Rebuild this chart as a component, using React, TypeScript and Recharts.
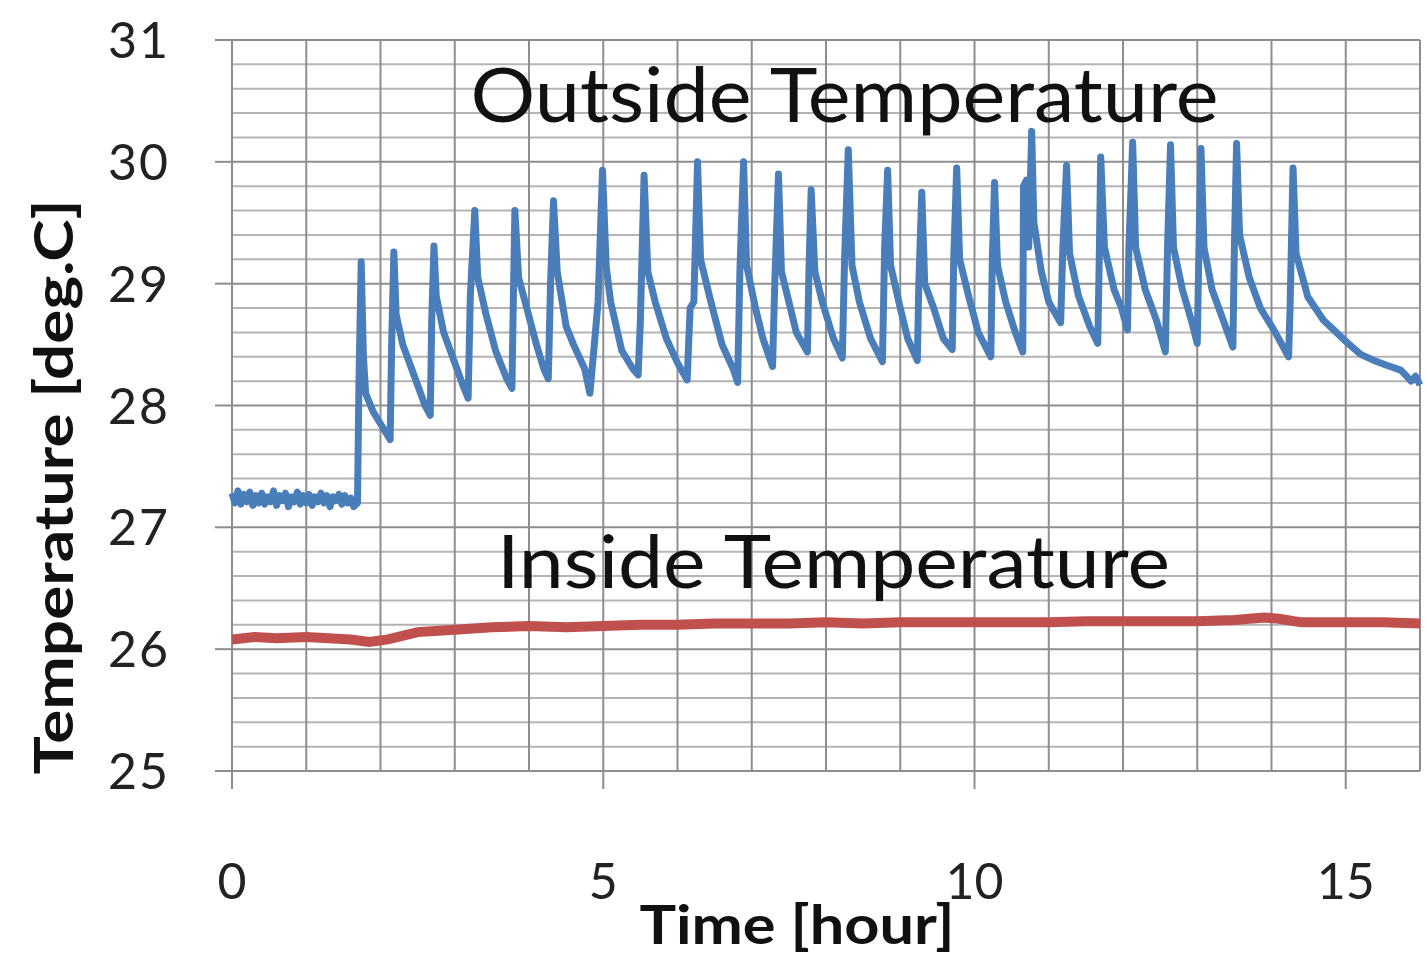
import {
  LineChart,
  Line,
  XAxis,
  YAxis,
  CartesianGrid,
  ReferenceDot,
} from "recharts";

// time [hour], temperature [deg.C]
const outsidePoints: [number, number][] = [
  [0, 27.28], [0.04, 27.2], [0.08, 27.3], [0.12, 27.19], [0.16, 27.27], [0.2, 27.21],
  [0.24, 27.29], [0.28, 27.18], [0.32, 27.26], [0.36, 27.2], [0.4, 27.28], [0.44, 27.19],
  [0.48, 27.25], [0.52, 27.21], [0.56, 27.3], [0.6, 27.18], [0.64, 27.26], [0.68, 27.22],
  [0.72, 27.28], [0.76, 27.17], [0.8, 27.25], [0.84, 27.21], [0.88, 27.29], [0.92, 27.19],
  [0.96, 27.26], [1.0, 27.2], [1.04, 27.27], [1.08, 27.18], [1.12, 27.25], [1.16, 27.21],
  [1.2, 27.28], [1.24, 27.2], [1.28, 27.26], [1.32, 27.17], [1.36, 27.25], [1.4, 27.22],
  [1.44, 27.27], [1.48, 27.19], [1.52, 27.26], [1.56, 27.2], [1.6, 27.24], [1.64, 27.17],
  [1.69, 27.2],
  [1.71, 28.2], [1.74, 29.18], [1.77, 28.4], [1.8, 28.1], [1.9, 27.95], [2.0, 27.85], [2.1, 27.75], [2.13, 27.72],
  [2.15, 28.5], [2.18, 29.26], [2.21, 28.75], [2.3, 28.5], [2.45, 28.25], [2.6, 28.0], [2.67, 27.92],
  [2.69, 28.7], [2.72, 29.31], [2.75, 28.9], [2.85, 28.6], [3.0, 28.35], [3.12, 28.15], [3.18, 28.06],
  [3.21, 28.9], [3.27, 29.6], [3.31, 29.05], [3.42, 28.75], [3.55, 28.45], [3.7, 28.22], [3.77, 28.14],
  [3.79, 28.9], [3.81, 29.6], [3.86, 29.05], [3.97, 28.8], [4.1, 28.5], [4.2, 28.3], [4.26, 28.22],
  [4.29, 29.0], [4.33, 29.68], [4.38, 29.1], [4.5, 28.65], [4.6, 28.5], [4.75, 28.3], [4.82, 28.1],
  [4.88, 28.5], [4.93, 28.85], [4.99, 29.93], [5.04, 29.14], [5.1, 28.85], [5.25, 28.45], [5.4, 28.3], [5.47, 28.25],
  [5.5, 28.7], [5.55, 29.89], [5.6, 29.1], [5.7, 28.85], [5.85, 28.55], [6.0, 28.35], [6.13, 28.21],
  [6.17, 28.8], [6.22, 28.85], [6.27, 30.0], [6.31, 29.2], [6.45, 28.85], [6.6, 28.5], [6.75, 28.3], [6.81, 28.19],
  [6.84, 29.1], [6.89, 30.0], [6.93, 29.15], [7.05, 28.8], [7.15, 28.55], [7.28, 28.32],
  [7.31, 29.0], [7.36, 29.9], [7.4, 29.1], [7.5, 28.85], [7.6, 28.6], [7.75, 28.44],
  [7.77, 29.1], [7.8, 29.77], [7.85, 29.1], [7.95, 28.85], [8.1, 28.55], [8.22, 28.39],
  [8.25, 29.2], [8.3, 30.1], [8.35, 29.15], [8.45, 28.85], [8.6, 28.55], [8.76, 28.36],
  [8.79, 29.3], [8.83, 29.93], [8.87, 29.15], [9.0, 28.8], [9.1, 28.55], [9.23, 28.37],
  [9.25, 29.0], [9.29, 29.75], [9.33, 29.0], [9.45, 28.8], [9.58, 28.55], [9.7, 28.46],
  [9.72, 29.2], [9.76, 29.95], [9.8, 29.2], [9.92, 28.9], [10.05, 28.6], [10.22, 28.4],
  [10.24, 29.2], [10.27, 29.83], [10.31, 29.15], [10.42, 28.85], [10.55, 28.6], [10.65, 28.44],
  [10.66, 29.8], [10.7, 29.85], [10.73, 29.3], [10.77, 30.25], [10.8, 29.5], [10.9, 29.1], [11.0, 28.85], [11.16, 28.68],
  [11.19, 29.3], [11.24, 29.97], [11.28, 29.25], [11.4, 28.9], [11.55, 28.65], [11.66, 28.51],
  [11.68, 29.2], [11.7, 30.04], [11.75, 29.3], [11.88, 28.95], [11.98, 28.8], [12.06, 28.62],
  [12.08, 29.3], [12.13, 30.16], [12.17, 29.3], [12.3, 28.95], [12.45, 28.7], [12.57, 28.44],
  [12.6, 29.3], [12.64, 30.14], [12.68, 29.3], [12.8, 28.95], [12.92, 28.7], [13.0, 28.51],
  [13.02, 29.2], [13.05, 30.11], [13.09, 29.3], [13.2, 28.95], [13.35, 28.7], [13.48, 28.48],
  [13.5, 29.3], [13.53, 30.15], [13.57, 29.4], [13.7, 29.05], [13.85, 28.8], [14.05, 28.6], [14.23, 28.4],
  [14.25, 28.8], [14.29, 29.95], [14.33, 29.25], [14.49, 28.89], [14.7, 28.7], [15.03, 28.51],
  [15.2, 28.42], [15.38, 28.37], [15.55, 28.33], [15.74, 28.29], [15.82, 28.24], [15.88, 28.2],
  [15.94, 28.24], [16.0, 28.17],
];

const insidePoints: [number, number][] = [
  [0, 26.08], [0.3, 26.1], [0.6, 26.09], [1.0, 26.1], [1.3, 26.09], [1.6, 26.08],
  [1.85, 26.06], [2.1, 26.08], [2.5, 26.14], [3.0, 26.16], [3.5, 26.18], [4.0, 26.19],
  [4.5, 26.18], [5.0, 26.19], [5.5, 26.2], [6.0, 26.2], [6.5, 26.21], [7.0, 26.21],
  [7.5, 26.21], [8.0, 26.22], [8.5, 26.21], [9.0, 26.22], [9.5, 26.22], [10.0, 26.22],
  [10.5, 26.22], [11.0, 26.22], [11.5, 26.23], [12.0, 26.23], [12.5, 26.23], [13.0, 26.23],
  [13.5, 26.24], [13.9, 26.26], [14.1, 26.25], [14.4, 26.22], [15.0, 26.22], [15.5, 26.22],
  [16.0, 26.21],
];

const xTicks = [0, 5, 10, 15];
const yTicks = [25, 26, 27, 28, 29, 30, 31];
const hourLines = [0, 1, 2, 3, 4, 5, 6, 7, 8, 9, 10, 11, 12, 13, 14, 15, 16];
const minorLines = [
  25.2, 25.4, 25.6, 25.8, 26.2, 26.4, 26.6, 26.8, 27.2, 27.4, 27.6, 27.8,
  28.2, 28.4, 28.6, 28.8, 29.2, 29.4, 29.6, 29.8, 30.2, 30.4, 30.6, 30.8,
];

const outsideData = outsidePoints.map(([t, v]) => ({ t, v }));
const insideData = insidePoints.map(([t, v]) => ({ t, v }));

const FONT = "Lato, 'Open Sans', sans-serif";

const XTick = ({ x, y, payload }: any) => (
  <text x={x} y={y + 108} textAnchor="middle" fontSize={50} fill="#222" fontFamily={FONT}>
    {payload.value}
  </text>
);

const YTick = ({ x, y, payload }: any) => (
  <text x={x} y={y} dy="0.36em" textAnchor="end" fontSize={50} fill="#222" fontFamily={FONT} letterSpacing={2}>
    {payload.value}
  </text>
);

// centred annotation stretched to the width it has in the original
const annotation = (text: string, size: number, width: number) => (props: any) => {
  const vb = props.viewBox || {};
  const cx = (vb.x ?? 0) + (vb.width ?? 0) / 2;
  const cy = (vb.y ?? 0) + (vb.height ?? 0) / 2;
  return (
    <text
      x={cx}
      y={cy}
      dy="0.36em"
      textAnchor="middle"
      fontSize={size}
      fill="#111"
      fontFamily={FONT}
      textLength={width}
      lengthAdjust="spacingAndGlyphs"
    >
      {text}
    </text>
  );
};

export default function App() {
  return (
    <div style={{ width: 1427, height: 955, background: "#fff" }}>
      <style>{`body{margin:0}`}</style>
      <LineChart
        width={1427}
        height={955}
        margin={{ top: 40, right: 7, bottom: 0, left: 0 }}
      >
        <CartesianGrid
          horizontalValues={minorLines}
          vertical={false}
          stroke="#b4b4b4"
          strokeWidth={2}
        />
        <CartesianGrid
          horizontalValues={yTicks}
          verticalValues={hourLines}
          stroke="#8e8e8e"
          strokeWidth={2}
        />
        <XAxis
          type="number"
          dataKey="t"
          domain={[0, 16]}
          ticks={xTicks}
          height={184}
          tickSize={18}
          tick={<XTick />}
          axisLine={false}
          tickLine={{ stroke: "#8e8e8e", strokeWidth: 2 }}
          allowDuplicatedCategory={false}
          label={{
            content: () => (
              <text
                x={797}
                y={944}
                textAnchor="middle"
                fontSize={54}
                fontWeight="bold"
                fill="#111"
                fontFamily={FONT}
                textLength={315}
                lengthAdjust="spacingAndGlyphs"
              >
                Time [hour]
              </text>
            ),
          }}
        />
        <YAxis
          type="number"
          domain={[25, 31]}
          ticks={yTicks}
          width={232}
          tickSize={17}
          tickMargin={45}
          axisLine={false}
          tickLine={{ stroke: "#8e8e8e", strokeWidth: 2 }}
          tick={<YTick />}
          label={{
            content: () => (
              <text
                x={0}
                y={0}
                transform="translate(73 487) rotate(-90)"
                textAnchor="middle"
                fontSize={54}
                fontWeight="bold"
                fill="#111"
                fontFamily={FONT}
                textLength={575}
                lengthAdjust="spacingAndGlyphs"
              >
                Temperature [deg.C]
              </text>
            ),
          }}
        />
        <Line
          data={insideData}
          dataKey="v"
          type="linear"
          stroke="#c0504d"
          strokeWidth={10}
          dot={false}
          isAnimationActive={false}
        />
        <Line
          data={outsideData}
          dataKey="v"
          type="linear"
          stroke="#4a7ebb"
          strokeWidth={7}
          strokeLinejoin="round"
          dot={false}
          isAnimationActive={false}
        />
        <ReferenceDot
          x={8.25}
          y={30.55}
          r={0}
          fill="none"
          stroke="none"
          label={{ content: annotation("Outside Temperature", 76, 748) }}
        />
        <ReferenceDot
          x={8.1}
          y={26.72}
          r={0}
          fill="none"
          stroke="none"
          label={{ content: annotation("Inside Temperature", 74, 673) }}
        />
      </LineChart>
    </div>
  );
}
